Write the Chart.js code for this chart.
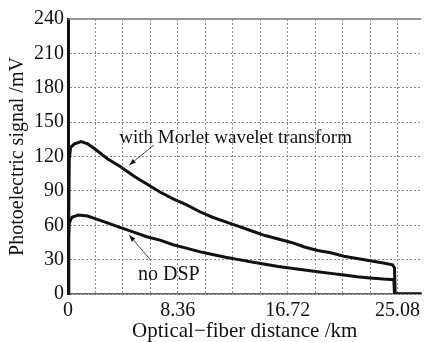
<!DOCTYPE html>
<html>
<head>
<meta charset="utf-8">
<script src="https://cdn.jsdelivr.net/npm/chart.js@4.4.0/dist/chart.umd.min.js"></script>
<style>
  html, body { margin: 0; padding: 0; background: #fff; }
  #wrap { width: 425px; height: 342px; }
</style>
</head>
<body>
<div id="wrap"><canvas id="fiberChart" width="425" height="342"></canvas></div>
<script>
  // distance (km) and signal (mV)
  var morletKm = [0, 0.05, 0.1, 0.2, 0.5, 1.0, 1.5, 2.0, 3.0, 4.0, 5.0, 6.0, 7.0, 8.0, 9.0, 10, 11, 12, 13, 14, 15, 16, 17, 18, 19, 20, 21, 22, 23, 24, 24.7, 24.85, 24.9, 27];
  var morletMv = [0, 60, 118, 128, 131, 133, 131, 127, 118, 111, 103, 96, 89, 83, 78, 72, 67, 63, 59, 55, 51, 48, 45, 41, 38, 36, 33, 31, 29, 27, 25.5, 23, 0, 0];

  var noDspKm = [0, 0.05, 0.1, 0.3, 0.8, 1.5, 2, 3, 4, 5, 6, 7, 8, 9, 10, 11, 12, 13, 14, 15, 16, 17, 18, 19, 20, 21, 22, 23, 24, 24.8, 24.85, 27];
  var noDspMv = [0, 50, 62, 67, 69, 68, 66, 62, 58, 54, 50, 47, 43, 40, 37, 34.5, 32, 30, 28, 26, 24, 22.5, 21, 19.5, 18, 16.5, 15, 14, 13, 12.5, 0, 0];

  var xTicks = [0, 2.09, 4.18, 6.27, 8.36, 10.45, 12.54, 14.63, 16.72, 18.81, 20.9, 22.99, 25.08];
  var xTickLabels = ['0', '', '', '', '8.36', '', '', '', '16.72', '', '', '', '25.08'];
  var yTicks = [0, 30, 60, 90, 120, 150, 180, 210, 240];

  // annotation labels: [km, mV] of text start, arrows: [fromKm, fromMv, toKm, toMv]
  var labelTexts = ['with Morlet wavelet transform', 'no DSP'];
  var labelSizes = [19, 20];
  var labelAt = [[3.9, 131.5], [5.33, 12.2]];
  var arrows = [[6.54, 130, 4.66, 112.5], [6.29, 29.6, 4.66, 51.4]];

  var serif = '"Liberation Serif", "Times New Roman", serif';

  function toPoints(xs, ys) {
    return xs.map(function (x, i) { return { x: x, y: ys[i] }; });
  }

  var annotate = {
    id: 'annotate',
    afterDatasetsDraw: function (chart) {
      var ctx = chart.ctx;
      var xs = chart.scales.x, ys = chart.scales.y;
      var area = chart.chartArea;
      ctx.save();
      // top frame line
      ctx.strokeStyle = '#777';
      ctx.lineWidth = 1.5;
      ctx.beginPath();
      ctx.moveTo(area.left, area.top);
      ctx.lineTo(area.right, area.top);
      ctx.stroke();

      ctx.fillStyle = '#111';
      ctx.textAlign = 'left';
      ctx.textBaseline = 'alphabetic';
      labelTexts.forEach(function (t, i) {
        ctx.font = labelSizes[i] + 'px ' + serif;
        ctx.fillText(t, xs.getPixelForValue(labelAt[i][0]), ys.getPixelForValue(labelAt[i][1]));
      });

      ctx.strokeStyle = '#222';
      ctx.lineWidth = 0.8;
      arrows.forEach(function (a) {
        var x1 = xs.getPixelForValue(a[0]), y1 = ys.getPixelForValue(a[1]);
        var x2 = xs.getPixelForValue(a[2]), y2 = ys.getPixelForValue(a[3]);
        var ang = Math.atan2(y2 - y1, x2 - x1);
        ctx.beginPath();
        ctx.moveTo(x1, y1);
        ctx.lineTo(x2, y2);
        ctx.stroke();
        ctx.beginPath();
        ctx.moveTo(x2, y2);
        ctx.lineTo(x2 - 7 * Math.cos(ang - 0.35), y2 - 7 * Math.sin(ang - 0.35));
        ctx.lineTo(x2 - 7 * Math.cos(ang + 0.35), y2 - 7 * Math.sin(ang + 0.35));
        ctx.closePath();
        ctx.fill();
      });
      ctx.restore();
    }
  };

  var lineStyle = {
    borderColor: '#111',
    borderWidth: 3,
    pointRadius: 0,
    tension: 0,
    fill: false
  };

  new Chart('fiberChart', {
    type: 'line',
    data: {
      datasets: [
        Object.assign({ label: 'with Morlet wavelet transform', data: toPoints(morletKm, morletMv) }, lineStyle),
        Object.assign({ label: 'no DSP', data: toPoints(noDspKm, noDspMv) }, lineStyle)
      ]
    },
    options: {
      responsive: false,
      animation: false,
      events: [],
      layout: { padding: { top: 19, right: 0, left: 0, bottom: 0 } },
      plugins: { legend: { display: false }, tooltip: { enabled: false } },
      scales: {
        x: {
          type: 'linear',
          min: 0,
          max: 26.9,
          afterBuildTicks: function (scale) {
            scale.ticks = xTicks.map(function (v) { return { value: v }; });
          },
          afterFit: function (scale) { scale.height = 48; },
          ticks: {
            autoSkip: false,
            maxRotation: 0,
            padding: 5,
            color: '#111',
            font: { family: serif, size: 20 },
            callback: function (v, i) { return xTickLabels[i]; }
          },
          grid: { color: '#8a8a8a', lineWidth: 1, drawTicks: false },
          border: { display: true, color: '#666', width: 1.5, dash: [2, 2] },
          title: {
            display: true,
            text: 'Optical\u2212fiber distance /km',
            color: '#111',
            font: { family: serif, size: 21 },
            padding: { top: 0, bottom: -2 }
          }
        },
        y: {
          min: 0,
          max: 240,
          afterBuildTicks: function (scale) {
            scale.ticks = yTicks.map(function (v) { return { value: v }; });
          },
          afterFit: function (scale) { scale.width = 68; },
          ticks: {
            padding: 4,
            color: '#111',
            font: { family: serif, size: 20 }
          },
          grid: {
            color: function (c) { return c.tick && c.tick.value === 240 ? 'rgba(0,0,0,0)' : '#8a8a8a'; },
            lineWidth: 1,
            drawTicks: false
          },
          border: { display: true, color: '#111', width: 3, dash: [2, 2] },
          title: {
            display: true,
            text: 'Photoelectric signal /mV',
            color: '#111',
            font: { family: serif, size: 20 },
            padding: { top: 6, bottom: 0 }
          }
        }
      }
    },
    plugins: [annotate]
  });
</script>
</body>
</html>
